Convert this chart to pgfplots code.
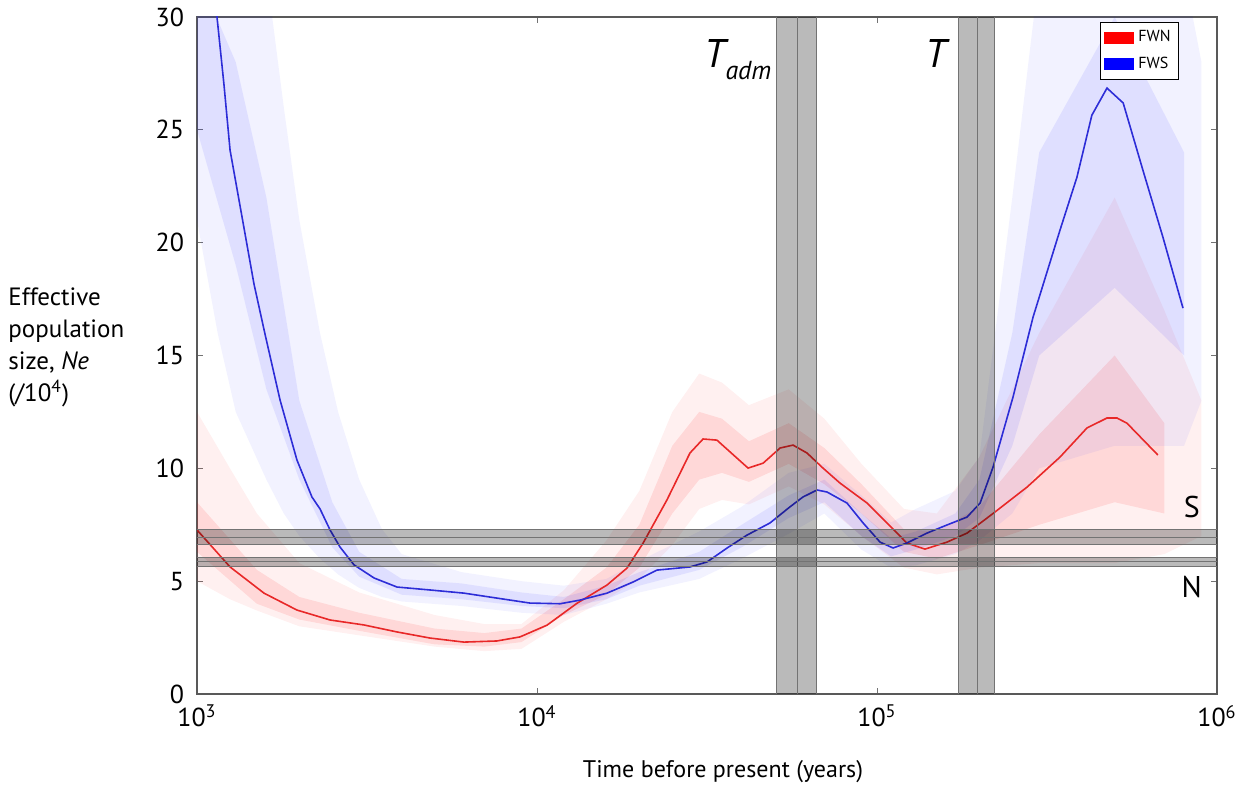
\documentclass[border=0pt]{standalone}
\usepackage{pgfplots}
\usepackage{pgfplotstable}
\pgfplotsset{compat=1.18}
\usepgfplotslibrary{fillbetween}
\usepackage{fontspec}
\setmainfont{PT Sans}

\definecolor{fwn}{RGB}{232,40,40}
\definecolor{fws}{RGB}{45,45,215}

% median curves
\pgfplotstableread{
x y
1000 7.27
1251 5.63
1574 4.47
1968 3.72
2462 3.28
3097 3.06
3874 2.75
4843 2.48
6095 2.30
7621 2.35
8913 2.53
10700 3.05
13110 4.02
16070 4.83
18400 5.58
20520 6.69
24110 8.60
28180 10.68
30790 11.30
33820 11.25
41770 10.01
46250 10.23
51870 10.90
56630 11.03
62230 10.68
69370 10.01
77800 9.35
93500 8.46
107000 7.58
122400 6.69
138400 6.42
160600 6.73
184000 7.13
219500 8.00
276300 9.17
345400 10.50
414600 11.79
474700 12.23
508000 12.23
543500 12.00
670000 10.59
}\fwnmed

\pgfplotstableread{
x y
1000 38
1145 30
1200 27.03
1251 24.10
1357 21.13
1471 18.17
1585 15.95
1755 13.03
1968 10.37
2178 8.73
2301 8.20
2462 7.27
2635 6.51
2897 5.72
3318 5.14
3874 4.74
4843 4.61
6095 4.47
7621 4.25
9530 4.03
11700 4.00
13370 4.16
16070 4.47
19150 4.96
22520 5.49
28180 5.63
31620 5.85
36240 6.47
41450 7.04
48450 7.58
55440 8.29
60560 8.73
66630 9.04
71300 8.95
81620 8.46
91000 7.58
102100 6.73
111500 6.47
122400 6.69
140300 7.13
160600 7.49
184000 7.84
201000 8.46
219500 10.06
251200 13.16
287700 16.70
345400 20.56
387300 22.90
428500 25.65
474700 26.85
529700 26.19
605800 23.20
693100 20.25
794300 17.10
}\fwsmed

% spread of the bootstrap replicates: outer range
\pgfplotstableread{
x lo hi
1000 5.0 12.5
1250 4.2 10.0
1500 3.7 8.0
2000 3.0 5.8
3000 2.6 4.5
5000 2.1 3.5
7000 1.9 3.1
9000 2.0 3.1
12000 3.2 4.6
16000 4.2 6.8
20000 5.1 9.0
25000 6.6 12.5
30000 8.2 14.2
35000 8.6 13.8
42000 8.4 12.8
55000 9.2 13.5
70000 8.4 12.2
90000 7.0 10.2
120000 5.6 8.2
150000 5.3 8.0
200000 5.6 10.5
300000 5.8 16.0
500000 5.8 22.0
700000 6.2 17.0
900000 7.0 13.0
}\fwnenv

\pgfplotstableread{
x lo hi
1000 21.0 32
1150 16.0 32
1300 12.5 32
1600 9.5 32
1800 8.0 26
2000 7.0 21
2300 6.0 16
2600 5.3 12.5
3000 4.7 9.5
3500 4.3 7.3
4000 4.1 6.2
6000 3.9 5.4
9000 3.6 5.0
12000 3.5 4.8
16000 4.0 5.1
20000 4.5 5.9
30000 5.1 7.2
40000 6.0 8.3
55000 7.1 9.8
70000 8.0 10.2
90000 6.4 8.8
110000 5.6 7.6
130000 5.7 8.2
170000 6.2 9.0
200000 6.8 10.5
250000 8.0 22
300000 10.0 32
500000 11.0 32
800000 11.0 32
900000 13.0 28
}\fwsenv

% dense core of the replicates
\pgfplotstableread{
x lo hi
1000 6.3 8.5
1500 4.0 5.5
2000 3.3 4.3
3000 2.8 3.6
5000 2.2 2.9
7000 2.1 2.7
9000 2.3 2.9
12000 3.5 4.2
16000 4.4 5.6
20000 5.6 7.5
25000 8.0 11.0
30000 9.5 12.5
35000 9.8 12.2
42000 9.4 11.2
55000 10.2 12.0
70000 9.3 10.9
90000 8.0 9.3
120000 6.3 7.3
150000 6.0 7.2
200000 6.6 8.3
300000 7.5 11.5
500000 8.5 15.0
700000 8.0 12.0
}\fwncore

\pgfplotstableread{
x lo hi
1000 25.0 32
1300 19.0 28
1600 13.5 22
2000 9.5 13.0
2500 6.5 8.5
3000 5.2 6.3
4000 4.4 5.1
6000 4.2 4.9
9000 3.9 4.5
12000 3.8 4.3
16000 4.2 4.8
20000 4.8 5.4
30000 5.5 6.3
40000 6.5 7.5
55000 7.8 8.8
70000 8.5 9.5
90000 7.0 8.0
110000 6.1 6.9
130000 6.4 7.2
170000 7.0 8.0
200000 7.8 9.5
250000 11.0 16.0
300000 15.0 24.0
500000 18.0 30.0
800000 15.0 24.0
}\fwscore

\begin{document}
\begin{tikzpicture}
\begin{axis}[
    scale only axis,
    width=510pt, height=338.5pt,
    xmode=log, log basis x=10,
    xmin=1000, xmax=1000000,
    ymin=0, ymax=30,
    xtick={1000,10000,100000,1000000},
    xticklabels={10\textsuperscript{3},10\textsuperscript{4},10\textsuperscript{5},10\textsuperscript{6}},
    ytick={0,5,10,15,20,25,30},
    /pgf/number format/assume math mode=true,
    tick label style={font=\fontsize{13}{15}\selectfont},
    yticklabel style={xshift=-3pt},
    xticklabel style={yshift=-2pt},
    tick style={black!55, thin},
    major tick length=3pt, minor tick length=2pt,
    axis line style={black!65, line width=1pt},
    legend style={at={(0.963,0.9926)}, anchor=north east, draw=black, line width=0.6pt,
        font=\fontsize{8}{9.5}\selectfont, inner sep=2pt, row sep=2pt},
    legend cell align=left,
]
\addlegendimage{legend image code/.code={\fill[red] (0pt,-2.75pt) rectangle (14.5pt,2.75pt);}}
\addlegendentry{FWN}
\addlegendimage{legend image code/.code={\fill[blue] (0pt,-2.75pt) rectangle (14.5pt,2.75pt);}}
\addlegendentry{FWS}

% bootstrap clouds
\addplot[draw=none, name path=rlo, forget plot] table[x=x, y=lo] {\fwnenv};
\addplot[draw=none, name path=rhi, forget plot] table[x=x, y=hi] {\fwnenv};
\addplot[fill=red, fill opacity=0.06, forget plot] fill between[of=rlo and rhi];
\addplot[draw=none, name path=rclo, forget plot] table[x=x, y=lo] {\fwncore};
\addplot[draw=none, name path=rchi, forget plot] table[x=x, y=hi] {\fwncore};
\addplot[fill=red, fill opacity=0.10, forget plot] fill between[of=rclo and rchi];
\addplot[draw=none, name path=blo, forget plot] table[x=x, y=lo] {\fwsenv};
\addplot[draw=none, name path=bhi, forget plot] table[x=x, y=hi] {\fwsenv};
\addplot[fill=blue, fill opacity=0.05, forget plot] fill between[of=blo and bhi];
\addplot[draw=none, name path=bclo, forget plot] table[x=x, y=lo] {\fwscore};
\addplot[draw=none, name path=bchi, forget plot] table[x=x, y=hi] {\fwscore};
\addplot[fill=blue, fill opacity=0.08, forget plot] fill between[of=bclo and bchi];

% medians
\addplot[fwn, line width=0.8pt, forget plot] table[x=x, y=y] {\fwnmed};
\addplot[fws, line width=0.8pt, forget plot] table[x=x, y=y] {\fwsmed};

% grey bands: divergence / admixture times and present sizes
\fill[black, fill opacity=0.27] (axis cs:50470,0) rectangle (axis cs:66150,30);
\draw[black!55] (axis cs:50470,0) -- (axis cs:50470,30) (axis cs:58170,0) -- (axis cs:58170,30) (axis cs:66150,0) -- (axis cs:66150,30);
\fill[black, fill opacity=0.27] (axis cs:173000,0) rectangle (axis cs:221000,30);
\draw[black!55] (axis cs:173000,0) -- (axis cs:173000,30) (axis cs:197000,0) -- (axis cs:197000,30) (axis cs:221000,0) -- (axis cs:221000,30);
\fill[black, fill opacity=0.27] (axis cs:1000,6.65) rectangle (axis cs:1000000,7.31);
\draw[black!55] (axis cs:1000,6.65) -- (axis cs:1000000,6.65) (axis cs:1000,6.96) -- (axis cs:1000000,6.96) (axis cs:1000,7.31) -- (axis cs:1000000,7.31);
\fill[black, fill opacity=0.27] (axis cs:1000,5.67) rectangle (axis cs:1000000,6.07);
\draw[black!55] (axis cs:1000,5.67) -- (axis cs:1000000,5.67) (axis cs:1000,5.89) -- (axis cs:1000000,5.89) (axis cs:1000,6.07) -- (axis cs:1000000,6.07);

\node[anchor=north east, inner sep=0pt] at (axis cs:49000,29.0)
    {\fontsize{20}{20}\selectfont\itshape T\raisebox{-6pt}{\fontsize{13}{13}\selectfont adm}};
\node[anchor=north east, inner sep=0pt] at (axis cs:161000,29.0)
    {\fontsize{20}{20}\selectfont\itshape T};
\node[inner sep=0pt] at (axis cs:843000,8.29) {\fontsize{15}{15}\selectfont S};
\node[inner sep=0pt] at (axis cs:843000,4.74) {\fontsize{15}{15}\selectfont N};

\coordinate (sw) at (rel axis cs:0,0);
\coordinate (ne) at (rel axis cs:1,1);
\coordinate (bc) at (rel axis cs:0.5,0);
\end{axis}
\node[anchor=west, align=left, inner sep=0pt, font=\fontsize{12.5}{16}\selectfont]
    at ([xshift=-94.5pt, yshift=173.5pt]sw)
    {Effective\\population\\size, \textit{Ne}\\(/10\textsuperscript{4})};
\node[font=\fontsize{12}{14}\selectfont, inner sep=0pt] at ([xshift=8pt, yshift=-39pt]bc) {Time before present (years)};
\pgfresetboundingbox
\path[use as bounding box] ([xshift=-98.5pt, yshift=-46.5pt]sw) rectangle ([xshift=9pt, yshift=8.5pt]ne);
\end{tikzpicture}
\end{document}
